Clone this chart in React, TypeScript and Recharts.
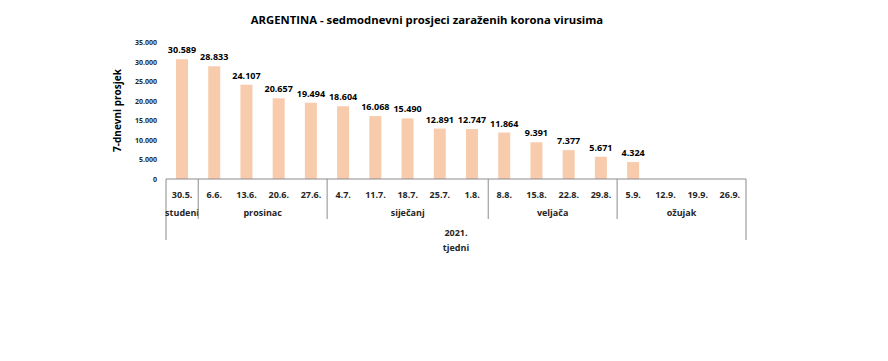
import React from "react";
import { BarChart, Bar, XAxis, YAxis, LabelList, Label } from "recharts";

const weeks = ["30.5.", "6.6.", "13.6.", "20.6.", "27.6.", "4.7.", "11.7.", "18.7.", "25.7.", "1.8.", "8.8.", "15.8.", "22.8.", "29.8.", "5.9.", "12.9.", "19.9.", "26.9."];
const averages = [30589, 28833, 24107, 20657, 19494, 18604, 16068, 15490, 12891, 12747, 11864, 9391, 7377, 5671, 4324, null, null, null];
const months = ["studeni", "prosinac", "siječanj", "veljača", "ožujak"];
const monthSizes = [1, 4, 5, 4, 4];
const yTicks = [0, 5000, 10000, 15000, 20000, 25000, 30000, 35000];

const data = weeks.map((week, i) => ({ week, value: averages[i] }));

const W = 872;
const H = 345;
const margin = { top: 34, right: 134, bottom: 104, left: 88 };
const yAxisWidth = 70;
const plotW = W - margin.left - margin.right - yAxisWidth;
const step = plotW / weeks.length;
const font = "'Open Sans', sans-serif";
const lineColor = "#8c8c8c";
const textColor = "#262626";

const fmt = (v: any) => {
	if (v === null || v === undefined) return "";
	return String(v).replace(/\B(?=(\d{3})+(?!\d))/g, ".");
};

// group starts: index -> month index
const groupStarts: Record<number, number> = {};
let acc = 0;
monthSizes.forEach((n, m) => {
	groupStarts[acc] = m;
	acc += n;
});

const ValueTick = (props: any) => {
	const { x, y, payload } = props;
	return (
		<text x={x} y={y} dy={3} textAnchor="end" fontSize={7} fontWeight={700} fill={textColor} fontFamily={font}>
			{fmt(payload.value)}
		</text>
	);
};

const WeekTick = (props: any) => {
	const { x, y, payload } = props;
	const i = payload.index;
	const left = x - step / 2;
	const m = groupStarts[i];
	return (
		<g>
			<text x={x} y={y + 19} textAnchor="middle" fontSize={9} fontWeight={700} fill={textColor} fontFamily={font}>
				{payload.value}
			</text>
			{m !== undefined && (
				<g>
					<line x1={left} x2={left} y1={y} y2={i === 0 ? y + 61 : y + 40} stroke={lineColor} />
					<text x={left + (monthSizes[m] * step) / 2} y={y + 37} textAnchor="middle" fontSize={9} fontWeight={700} fill={textColor} fontFamily={font}>
						{months[m]}
					</text>
				</g>
			)}
			{i === weeks.length - 1 && (
				<line x1={x + step / 2} x2={x + step / 2} y1={y} y2={y + 61} stroke={lineColor} />
			)}
			{i === 0 && (
				<g>
					<text x={left + (weeks.length * step) / 2} y={y + 57} textAnchor="middle" fontSize={9} fontWeight={700} fill={textColor} fontFamily={font}>
						2021.
					</text>
					<text x={left + (weeks.length * step) / 2} y={y + 72} textAnchor="middle" fontSize={9} fontWeight={700} fill={textColor} fontFamily={font}>
						tjedni
					</text>
				</g>
			)}
		</g>
	);
};

export default function App() {
	return (
		<div style={{ position: "relative", width: W, height: H }}>
			<div
				style={{
					position: "absolute",
					top: 4,
					left: 0,
					width: 838,
					textAlign: "center",
					fontFamily: font,
					fontWeight: 700,
					fontSize: 11.3,
					color: "#000",
				}}
			>
				ARGENTINA - sedmodnevni prosjeci zaraženih korona virusima
			</div>
			<BarChart width={W} height={H} data={data} margin={margin}>
				<XAxis
					dataKey="week"
					interval={0}
					tickSize={0}
					tickMargin={0}
					tickLine={false}
					axisLine={{ stroke: lineColor }}
					height={70}
					tick={(p: any) => <WeekTick {...p} />}
				/>
				<YAxis
					width={yAxisWidth}
					domain={[0, 35000]}
					ticks={yTicks}
					interval={0}
					axisLine={false}
					tickLine={false}
					tickSize={6}
					tickMargin={3}
					tick={(p: any) => <ValueTick {...p} />}
				>
					<Label
						content={({ viewBox }: any) => {
							const cx = viewBox.x + 21;
							const cy = viewBox.y + viewBox.height / 2;
							return (
								<text
									x={cx}
									y={cy}
									transform={`rotate(-90, ${cx}, ${cy})`}
									textAnchor="middle"
									dominantBaseline="central"
									fontSize={10}
									fontWeight={700}
									fill="#000"
									fontFamily={font}
								>
									7-dnevni prosjek
								</text>
							);
						}}
					/>
				</YAxis>
				<Bar dataKey="value" fill="#F8CBAD" barSize={12} isAnimationActive={false}>
					<LabelList
						dataKey="value"
						position="top"
						offset={6}
						formatter={fmt}
						style={{ fontSize: 9, fontWeight: 700, fill: "#000", fontFamily: font }}
					/>
				</Bar>
			</BarChart>
		</div>
	);
}
